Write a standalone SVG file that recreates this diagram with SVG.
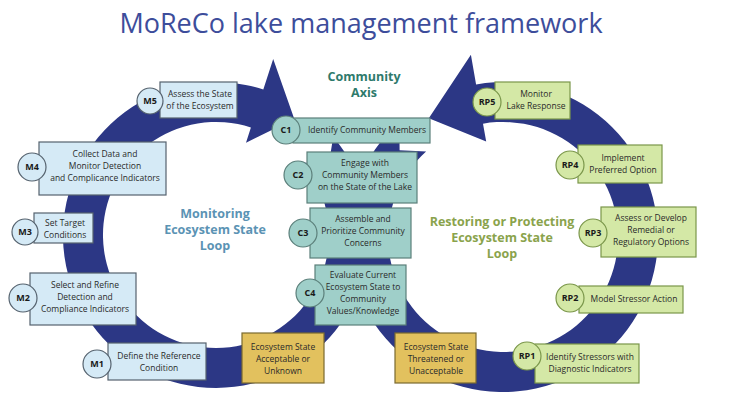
<svg xmlns="http://www.w3.org/2000/svg" width="730" height="406" viewBox="0 0 730 406">
<style>
text{font-family:"Open Sans","Liberation Sans",sans-serif;text-anchor:middle}
.t{font-size:8.5px;fill:#2a2a2a}
.ring{fill:#2c3785}
.m rect{fill:#d5eaf6;stroke:#55626e;stroke-width:1.2}
.m circle{fill:#d5eaf6;stroke:#55626e;stroke-width:1.2}
.c rect,.c circle{fill:#9fcfc9;stroke:#5b7f7a;stroke-width:1.2}
.r rect,.r circle{fill:#d4e8a6;stroke:#7a964a;stroke-width:1.2}
.y rect{fill:#e2c15e;stroke:#7a6a30;stroke-width:1.2}
.id{font-size:9px;font-weight:bold;fill:#1a1a1a}
.loop{font-size:12.5px;font-weight:bold}
</style>
<rect width="730" height="406" fill="#fff"/>
<text x="361" y="33" style="font-size:27px;fill:#3d4d9b">MoReCo lake management framework</text>
<g id="connectors">
<path class="ring" d="M333.2,136.7 A153,153 0 1 1 263.3,89.5 L273.2,59 L294.3,118.9 L246,142.7 L250.9,127.5 A113,113 0 1 0 302.6,162.4 L328.8,164.5 Z"/>
<path class="ring" d="M399.3,121.8 A155,155 0 1 0 476.1,84.4 L470.9,54.8 L428.8,118.3 L486.2,141.5 L483,123.7 A115,115 0 1 1 426.1,151.5 L399.6,150.2 Z"/>
</g>
<text class="loop" x="364" y="81" style="fill:#2e7a6c">Community</text>
<text class="loop" x="364" y="97" style="fill:#2e7a6c">Axis</text>
<text class="loop" x="215" y="218" style="fill:#5b93b4">Monitoring</text>
<text class="loop" x="215" y="234" style="fill:#5b93b4">Ecosystem State</text>
<text class="loop" x="215" y="250" style="fill:#5b93b4">Loop</text>
<text class="loop" x="502" y="226" style="fill:#8aa34c">Restoring or Protecting</text>
<text class="loop" x="502" y="242" style="fill:#8aa34c">Ecosystem State</text>
<text class="loop" x="502" y="258" style="fill:#8aa34c">Loop</text>

<g id="M5" class="m"><rect x="160" y="82" width="77" height="36"/><circle cx="150" cy="101" r="13"/><text class="id" x="150" y="104">M5</text><text class="t" x="200" y="97">Assess the State</text><text class="t" x="200" y="109">of the Ecosystem</text></g>
<g id="M4" class="m"><rect x="39" y="142" width="127" height="53"/><circle cx="32" cy="167" r="14"/><text class="id" x="32" y="170">M4</text><text class="t" x="105" y="157">Collect Data and</text><text class="t" x="105" y="169">Monitor Detection</text><text class="t" x="105" y="181">and Complicance Indicators</text></g>
<g id="M3" class="m"><rect x="34" y="213" width="59" height="30"/><circle cx="25" cy="232" r="13"/><text class="id" x="25" y="235">M3</text><text class="t" x="65" y="226">Set Target</text><text class="t" x="65" y="238">Conditions</text></g>
<g id="M2" class="m"><rect x="30" y="273" width="106" height="52"/><circle cx="23" cy="298" r="14"/><text class="id" x="23" y="301">M2</text><text class="t" x="85" y="288">Select and Refine</text><text class="t" x="85" y="300">Detection and</text><text class="t" x="85" y="312">Compliance Indicators</text></g>
<g id="M1" class="m"><rect x="108" y="343" width="98" height="37"/><circle cx="97" cy="364" r="14"/><text class="id" x="97" y="367">M1</text><text class="t" x="159" y="359">Define the Reference</text><text class="t" x="159" y="371">Condition</text></g>
<g id="Y1" class="y"><rect x="242" y="333" width="82" height="50"/><text class="t" x="283" y="350">Ecosystem State</text><text class="t" x="283" y="362">Acceptable or</text><text class="t" x="283" y="374">Unknown</text></g>

<g id="C1" class="c"><rect x="293" y="118" width="137" height="25"/><circle cx="286" cy="130" r="14"/><text class="id" x="286" y="133">C1</text><text class="t" x="367" y="133">Identify Community Members</text></g>
<g id="C2" class="c"><rect x="307" y="152" width="110" height="51"/><circle cx="298" cy="175" r="14"/><text class="id" x="298" y="178">C2</text><text class="t" x="365" y="166">Engage with</text><text class="t" x="365" y="178">Community Members</text><text class="t" x="365" y="190">on the State of the Lake</text></g>
<g id="C3" class="c"><rect x="310" y="208" width="101" height="50"/><circle cx="303" cy="233" r="14"/><text class="id" x="303" y="236">C3</text><text class="t" x="363" y="222">Assemble and</text><text class="t" x="363" y="234">Prioritize Community</text><text class="t" x="363" y="246">Concerns</text></g>
<g id="C4" class="c"><rect x="315" y="265" width="91" height="60"/><circle cx="310" cy="293" r="14"/><text class="id" x="310" y="296">C4</text><text class="t" x="363" y="278">Evaluate Current</text><text class="t" x="363" y="290">Ecosystem State to</text><text class="t" x="363" y="302">Community</text><text class="t" x="363" y="314">Values/Knowledge</text></g>
<g id="Y2" class="y"><rect x="395" y="333" width="81" height="50"/><text class="t" x="436" y="350">Ecosystem State</text><text class="t" x="436" y="362">Threatened or</text><text class="t" x="436" y="374">Unacceptable</text></g>

<g id="RP5" class="r"><rect x="495" y="82" width="75" height="37"/><circle cx="487" cy="102" r="14"/><text class="id" x="487" y="105">RP5</text><text class="t" x="536" y="97">Monitor</text><text class="t" x="536" y="109">Lake Response</text></g>
<g id="RP4" class="r"><rect x="578" y="145" width="84" height="38"/><circle cx="570" cy="165" r="14"/><text class="id" x="570" y="168">RP4</text><text class="t" x="623" y="161">Implement</text><text class="t" x="623" y="173">Preferred Option</text></g>
<g id="RP3" class="r"><rect x="601" y="207" width="95" height="50"/><circle cx="593" cy="233" r="14"/><text class="id" x="593" y="236">RP3</text><text class="t" x="651" y="221">Assess or Develop</text><text class="t" x="651" y="233">Remedial or</text><text class="t" x="651" y="245">Regulatory Options</text></g>
<g id="RP2" class="r"><rect x="579" y="286" width="104" height="27"/><circle cx="570" cy="298" r="14"/><text class="id" x="570" y="301">RP2</text><text class="t" x="634" y="302">Model Stressor Action</text></g>
<g id="RP1" class="r"><rect x="535" y="344" width="104" height="39"/><circle cx="527" cy="356" r="14"/><text class="id" x="527" y="359">RP1</text><text class="t" x="590" y="360">Identify Stressors with</text><text class="t" x="590" y="372">Diagnostic Indicators</text></g>
</svg>
